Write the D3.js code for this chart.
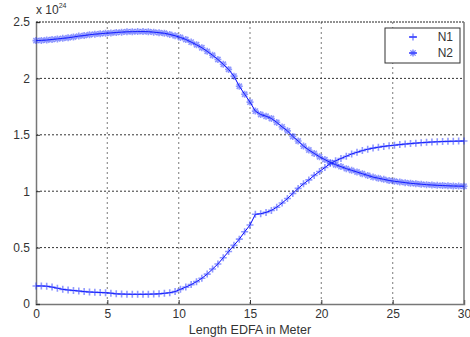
<!DOCTYPE html>
<html>
<head>
<meta charset="utf-8">
<script src="https://cdn.jsdelivr.net/npm/d3@7"></script>
<style>
  body { margin: 0; background: #fff; }
  text { font-family: "Liberation Sans", Arial, sans-serif; }
</style>
</head>
<body>
<div id="chart"></div>
<script>
// sampling grid along the fibre (m)
const lengths = d3.range(0, 30.0001, 0.375);

// population densities, units of 1e24
const n1 = [0.16, 0.16, 0.158, 0.15, 0.14, 0.13, 0.124, 0.12, 0.115, 0.11,
  0.106, 0.104, 0.102, 0.10, 0.096, 0.09, 0.088, 0.087, 0.086, 0.086,
  0.086, 0.087, 0.088, 0.09, 0.095, 0.10, 0.11, 0.13, 0.15, 0.172,
  0.198, 0.228, 0.265, 0.31, 0.355, 0.41, 0.465, 0.52, 0.575, 0.64,
  0.70, 0.795, 0.80, 0.812, 0.83, 0.858, 0.895, 0.935, 0.98, 1.025,
  1.065, 1.10, 1.14, 1.175, 1.21, 1.245, 1.27, 1.29, 1.31, 1.33,
  1.345, 1.36, 1.372, 1.382, 1.39, 1.397, 1.403, 1.408, 1.413, 1.418,
  1.422, 1.426, 1.43, 1.433, 1.436, 1.438, 1.44, 1.442, 1.443, 1.444,
  1.445];

const n2 = [2.335, 2.337, 2.34, 2.345, 2.35, 2.355, 2.36, 2.367, 2.375, 2.38,
  2.387, 2.392, 2.396, 2.40, 2.403, 2.407, 2.41, 2.413, 2.414, 2.415,
  2.415, 2.414, 2.41, 2.405, 2.40, 2.39, 2.378, 2.363, 2.345, 2.322,
  2.298, 2.272, 2.24, 2.205, 2.168, 2.125, 2.08, 2.02, 1.93, 1.86,
  1.79, 1.71, 1.68, 1.665, 1.645, 1.61, 1.57, 1.535, 1.485, 1.445,
  1.40, 1.365, 1.335, 1.305, 1.28, 1.255, 1.235, 1.218, 1.20, 1.185,
  1.17, 1.155, 1.14, 1.125, 1.115, 1.105, 1.095, 1.088, 1.082, 1.076,
  1.07, 1.066, 1.062, 1.058, 1.055, 1.052, 1.05, 1.048, 1.046, 1.045,
  1.044];

const xTicks = [0, 5, 10, 15, 20, 25, 30];
const yTicks = [0, 0.5, 1, 1.5, 2, 2.5];
const seriesNames = ['N1', 'N2'];

const W = 470, H = 337;
const margin = { left: 36, right: 6, top: 22, bottom: 33 };
const width = W - margin.left - margin.right;
const height = H - margin.top - margin.bottom;

const svg = d3.select('#chart').append('svg')
  .attr('width', W).attr('height', H)
  .append('g').attr('transform', 'translate(' + margin.left + ',' + margin.top + ')');

const x = d3.scaleLinear().domain([0, 30]).range([0, width]);
const y = d3.scaleLinear().domain([0, 2.5]).range([height, 0]);

// grid
svg.append('g').selectAll('line')
  .data(xTicks.slice(1, -1))
  .enter().append('line')
  .attr('x1', d => x(d)).attr('x2', d => x(d))
  .attr('y1', 0).attr('y2', height)
  .attr('stroke', '#999').attr('stroke-width', 1.3).attr('stroke-dasharray', '2,3');

svg.append('g').selectAll('line')
  .data(yTicks.slice(1, -1))
  .enter().append('line')
  .attr('x1', 0).attr('x2', width)
  .attr('y1', d => y(d)).attr('y2', d => y(d))
  .attr('stroke', '#333').attr('stroke-width', 1).attr('stroke-dasharray', '2,2');

// axes
svg.append('g')
  .attr('transform', 'translate(0,' + height + ')')
  .call(d3.axisBottom(x).tickValues(xTicks).tickSize(-4).tickPadding(5).tickFormat(d3.format('d')))
  .call(g => g.select('.domain').attr('stroke', '#777').attr('stroke-width', 1.5))
  .call(g => g.selectAll('.tick line').attr('stroke', '#333'))
  .call(g => g.selectAll('text').attr('font-size', 12).attr('fill', '#333'));

svg.append('g')
  .call(d3.axisLeft(y).tickValues(yTicks).tickSize(-4).tickPadding(6).tickFormat(d => d))
  .call(g => g.select('.domain').attr('stroke', '#777').attr('stroke-width', 1.5))
  .call(g => g.selectAll('.tick line').attr('stroke', '#333'))
  .call(g => g.selectAll('text').attr('font-size', 12).attr('fill', '#333'));

svg.append('line')
  .attr('x1', 0).attr('x2', width).attr('y1', 0).attr('y2', 0)
  .attr('stroke', '#222').attr('stroke-width', 1).attr('stroke-dasharray', '2,1');
svg.append('line')
  .attr('x1', width).attr('x2', width).attr('y1', 0).attr('y2', height)
  .attr('stroke', '#777').attr('stroke-width', 1.5);

// exponent label
const expo = svg.append('text')
  .attr('x', 0).attr('y', -8)
  .attr('font-size', 12).attr('fill', '#333');
expo.append('tspan').text('x 10');
expo.append('tspan').attr('dy', -6).attr('font-size', 7).text('24');

svg.append('text')
  .attr('x', width / 2).attr('y', height + 30)
  .attr('text-anchor', 'middle')
  .attr('font-size', 12.5).attr('fill', '#333')
  .text('Length EDFA in Meter');

// markers
const plusPath = s => 'M' + (-s) + ',0H' + s + 'M0,' + (-s) + 'V' + s;
const starPath = s => plusPath(s) + 'M' + (-s * 0.75) + ',' + (-s * 0.75) + 'L' + (s * 0.75) + ',' + (s * 0.75) +
  'M' + (-s * 0.75) + ',' + (s * 0.75) + 'L' + (s * 0.75) + ',' + (-s * 0.75);
const markers = [plusPath(3.5), starPath(3.5)];

const line = d3.line().x((d, i) => x(lengths[i])).y(d => y(d));

[n1, n2].forEach((vals, k) => {
  svg.append('path')
    .datum(vals)
    .attr('fill', 'none')
    .attr('stroke', '#0000ff')
    .attr('stroke-width', 1)
    .attr('d', line);

  svg.append('g').selectAll('path')
    .data(vals)
    .enter().append('path')
    .attr('transform', (d, i) => 'translate(' + x(lengths[i]) + ',' + y(d) + ')')
    .attr('d', markers[k])
    .attr('fill', 'none')
    .attr('stroke', '#2233ff')
    .attr('stroke-opacity', 0.5)
    .attr('stroke-width', 1.6);
});

// legend
const legend = svg.append('g').attr('transform', 'translate(349,6)');
legend.append('rect')
  .attr('width', 75).attr('height', 35)
  .attr('fill', '#fff').attr('stroke', '#333').attr('stroke-width', 1);

seriesNames.forEach((name, k) => {
  const row = legend.append('g').attr('transform', 'translate(0,' + (9 + k * 16) + ')');
  row.append('line')
    .attr('x1', 24).attr('x2', 32).attr('y1', 0).attr('y2', 0)
    .attr('stroke', '#0000ff').attr('stroke-width', 1);
  row.append('path')
    .attr('transform', 'translate(28,0)')
    .attr('d', markers[k])
    .attr('fill', 'none').attr('stroke', '#2233ff')
    .attr('stroke-opacity', 0.6).attr('stroke-width', 1.4);
  row.append('text')
    .attr('x', 68).attr('y', 4)
    .attr('text-anchor', 'end')
    .attr('font-size', 12).attr('fill', '#333')
    .text(name);
});
</script>
</body>
</html>
